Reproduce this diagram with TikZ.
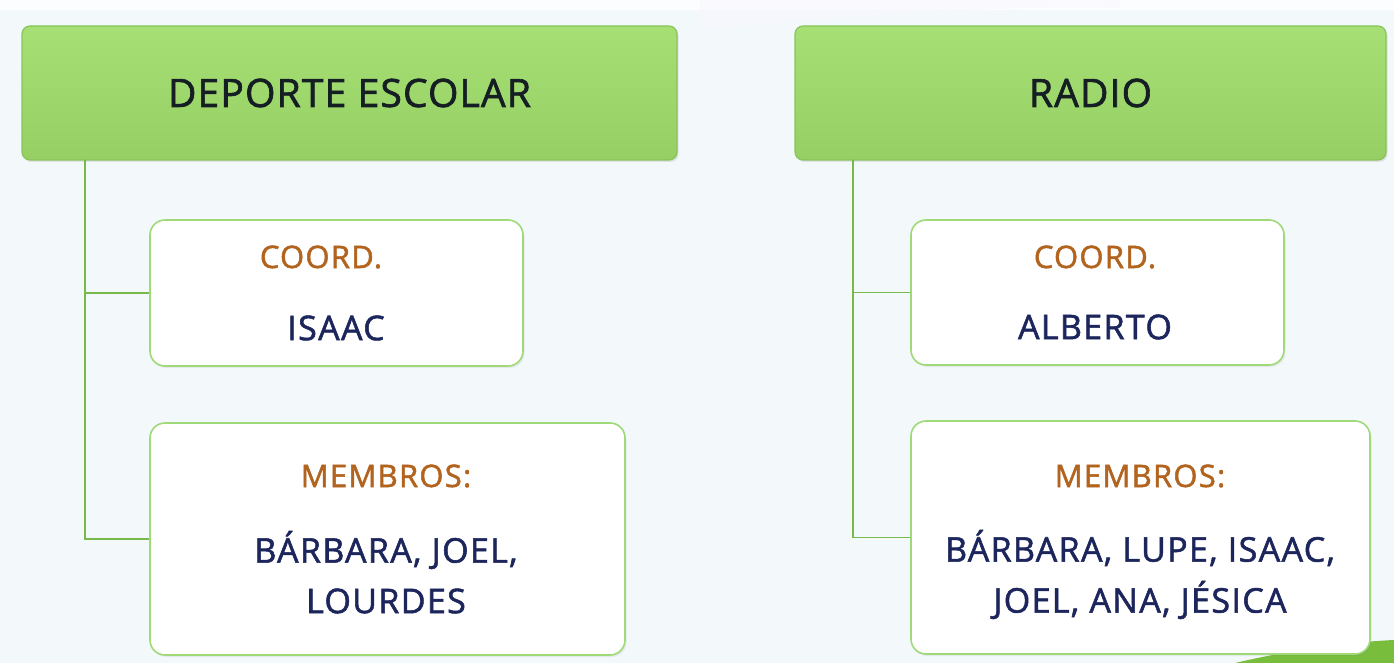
\documentclass[tikz,border=0pt]{standalone}
\usepackage{fontspec}
\setmainfont{Open Sans}[FakeBold=1.6]
\newfontfamily\hdrfont{Open Sans}[FakeBold=1.6, LetterSpace=3]
\newfontfamily\itemfont{Open Sans}[FakeBold=1.6, LetterSpace=4]
\usetikzlibrary{shadows}
\definecolor{bgc}{RGB}{243,248,251}
\definecolor{hdrtop}{RGB}{166,224,116}
\definecolor{hdrbot}{RGB}{150,208,100}
\definecolor{hdrline}{RGB}{135,196,90}
\definecolor{boxline}{RGB}{160,218,120}
\definecolor{conn}{RGB}{120,185,75}
\definecolor{lblc}{RGB}{178,100,30}
\definecolor{namec}{RGB}{28,38,92}
\definecolor{hdrtext}{RGB}{20,30,35}
\definecolor{grass}{RGB}{120,190,60}
\tikzset{
  hdr/.style={draw=hdrline, line width=1.2pt, rounded corners=8pt,
    top color=hdrtop, bottom color=hdrbot,
    drop shadow={shadow xshift=1.5pt, shadow yshift=-2pt, opacity=0.18},
    text=hdrtext, font=\hdrfont\fontsize{39}{44}\selectfont, inner sep=0pt},
  itembox/.style={draw=boxline, line width=1.6pt, rounded corners=15pt, fill=white!97!magenta!2, inner sep=0pt,
    drop shadow={shadow xshift=1.5pt, shadow yshift=-2pt, opacity=0.12}},
  lbl/.style={text=lblc, font=\itemfont\fontsize{31}{38}\selectfont, inner sep=0pt},
  names/.style={text=namec, font=\itemfont\fontsize{34}{38}\selectfont, inner sep=0pt},
  conline/.style={draw=conn, line width=1.8pt}
}
\begin{document}
\begin{tikzpicture}[x=1pt,y=-1pt]
\path[fill=bgc] (0,0) rectangle (1394,663);
\useasboundingbox (0,0) rectangle (1394,663);
\fill[white, opacity=0.8] (0,0) rectangle (1394,10);
\fill[white!85!blue!20, opacity=0.6] (700,30) .. controls (900,10) and (1050,5) .. (1120,8) -- (1120,0) -- (700,0) -- cycle;
\fill[grass] (1235,663) .. controls (1290,650) and (1350,642) .. (1394,640) -- (1394,663) -- cycle;
% headers
\node[hdr, minimum width=655pt, minimum height=134pt] (h1) at (349.5,93) {DEPORTE ESCOLAR};
\node[hdr, minimum width=591pt, minimum height=134pt] (h2) at (1090.5,93) {RADIO};
% boxes
\node[itembox, minimum width=373pt, minimum height=146pt] (c1) at (336.5,293) {};
\node[itembox, minimum width=475pt, minimum height=232pt] (m1) at (387.5,539) {};
\node[itembox, minimum width=373pt, minimum height=145pt] (c2) at (1097.5,292.5) {};
\node[itembox, minimum width=459pt, minimum height=233pt] (m2) at (1140.5,537.5) {};
% connectors
\coordinate (t1) at (85,160);
\coordinate (t2) at (853,160);
\draw[conline] (t1) |- (m1.west);
\draw[conline] (t1) |- (c1.west);
\draw[conline] (t2) |- (m2.west);
\draw[conline] (t2) |- (c2.west);
% texts
\node[lbl] (c1l) at (321,257) {COORD.};
\node[names] (c1n) at (336,328) {ISAAC};
\node[lbl] (m1l) at (386,476) {MEMBROS:};
\node[names] (m1a) at (386,550) {BÁRBARA, JOEL,};
\node[names] (m1b) at (386,601) {LOURDES};
\node[lbl] (c2l) at (1095,257) {COORD.};
\node[names] (c2n) at (1095,327) {ALBERTO};
\node[lbl] (m2l) at (1140,476) {MEMBROS:};
\node[names] (m2a) at (1140,548) {BÁRBARA, LUPE, ISAAC,};
\node[names] (m2b) at (1140,600) {JOEL, ANA, JÉSICA};
\end{tikzpicture}
\end{document}
